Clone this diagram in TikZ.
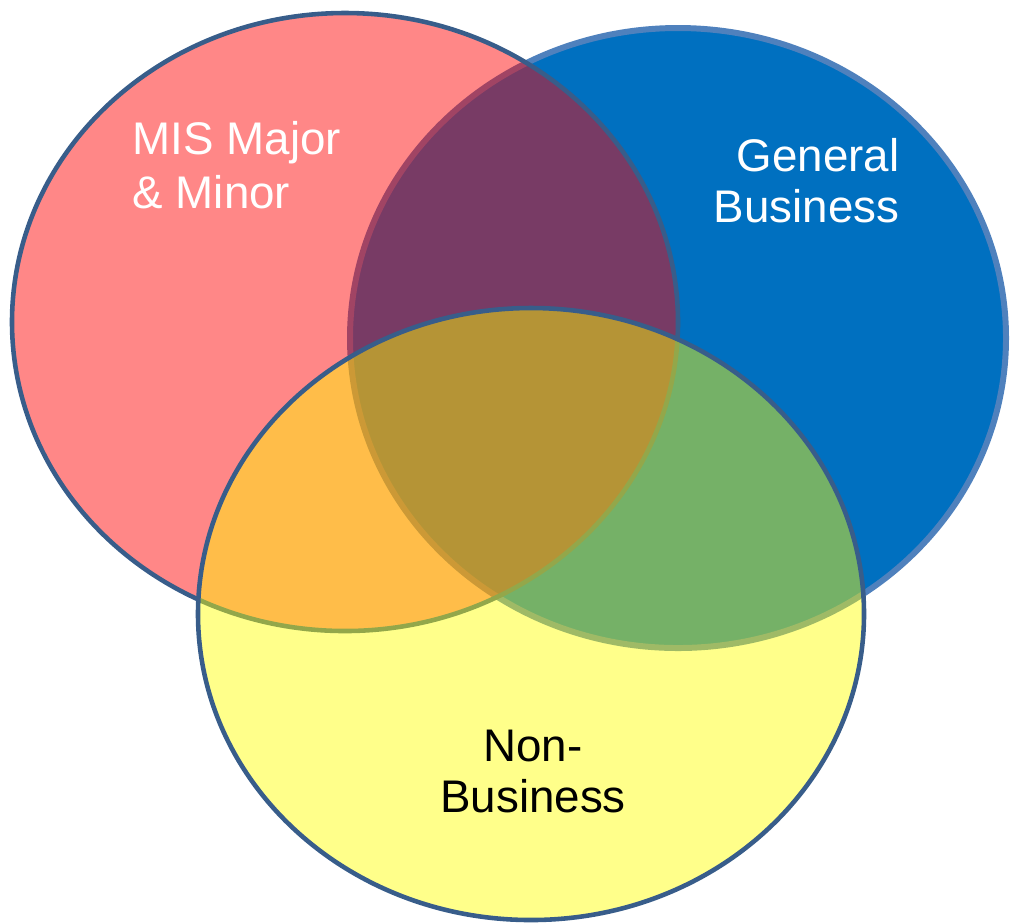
\documentclass[tikz,border=0pt]{standalone}
\usepackage{fontspec}
\setmainfont{Liberation Sans}
\usetikzlibrary{positioning}
\definecolor{genblue}{RGB}{0,112,192}
\definecolor{genedge}{RGB}{79,129,189}
\definecolor{misred}{RGB}{255,0,0}
\definecolor{nonyellow}{RGB}{255,255,0}
\definecolor{ringedge}{RGB}{56,93,138}

\begin{document}
\begin{tikzpicture}[x=0.01cm, y=-0.01cm,
    labeltext/.style={font=\fontsize{13}{14.5}\selectfont, inner sep=0pt}]
    \useasboundingbox (0,0) rectangle (1010,923);

    % General business set (at the back)
    \filldraw[fill=genblue, draw=genedge, line width=1.7pt]
        (678,338) ellipse [x radius=328, y radius=310];

    % MIS set, see-through red
    \filldraw[fill=misred, fill opacity=0.47, draw=ringedge, line width=1.3pt]
        (345,322) ellipse [x radius=333, y radius=309];

    % Non-business set, see-through yellow
    \filldraw[fill=nonyellow, fill opacity=0.46, draw=ringedge, line width=1.3pt]
        (531,614) ellipse [x radius=333, y radius=306];

    % Set labels (base = baseline of the last line)
    \node[labeltext, text=white, align=left, anchor=base west,
          font=\fontsize{13}{15.3}\selectfont] (mis) at (132,208) {MIS Major\\\& Minor};
    \node[labeltext, text=white, align=right, anchor=base east] (gen) at (900,222) {General\\Business};
    \node[labeltext, text=black, align=center, anchor=base] (non) at (533,812) {Non-\\Business};
\end{tikzpicture}
\end{document}
